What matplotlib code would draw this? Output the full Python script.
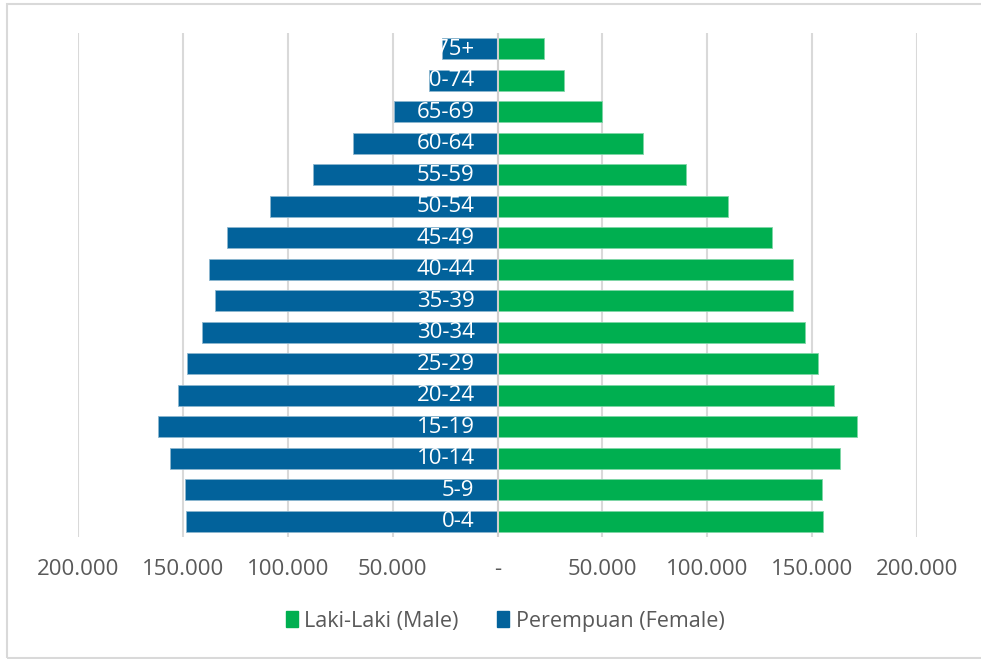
import matplotlib
matplotlib.use("Agg")
import matplotlib.pyplot as plt
from matplotlib.patches import Rectangle, Patch
from matplotlib.ticker import FuncFormatter
import numpy as np

# age groups, bottom to top
age_groups = ["0-4", "5-9", "10-14", "15-19", "20-24", "25-29", "30-34", "35-39",
              "40-44", "45-49", "50-54", "55-59", "60-64", "65-69", "70-74", "75+"]
# population counts
male = [155100, 154700, 163200, 171400, 160400, 152700, 146500, 140800,
        140800, 130800, 109800, 89700, 69200, 49600, 31500, 22400]
female = [148400, 148900, 156100, 161800, 152300, 148000, 140800, 134600,
          137500, 128900, 108400, 87800, 68700, 49200, 32500, 26300]

male_color = "#00AF50"
female_color = "#02629B"
grid_color = "#D9D9D9"
text_color = "#595959"

plt.rcParams['font.family'] = ["Open Sans", "DejaVu Sans"]

fig = plt.figure(figsize=(9.81, 6.59), dpi=100)
ax = fig.add_axes([78 / 981, 1 - 537 / 659, (917 - 78) / 981, (537 - 33) / 659])

y = np.arange(len(age_groups))
ax.barh(y, male, height=0.67, color=male_color, edgecolor="#7FD6A6", linewidth=0.6, zorder=3)
ax.barh(y, [-v for v in female], height=0.67, color=female_color, edgecolor="#8DB6CF",
        linewidth=0.6, zorder=3)

# age labels inside the female bars
for yi, lab in zip(y, age_groups):
    ax.annotate(lab, xy=(0, yi), xytext=(-16.5, -0.5), textcoords="offset points",
                ha="right", va="center", color="white", fontsize=16, zorder=4)

ax.set_xlim(-200000, 200000)
ax.set_ylim(-0.5, len(age_groups) - 0.5)
ticks = np.arange(-200000, 200001, 50000)
ax.set_xticks(ticks)


def fmt(v, pos):
    if v == 0:
        return "-"
    return f"{abs(int(v)):,}".replace(",", ".")


ax.xaxis.set_major_formatter(FuncFormatter(fmt))
ax.tick_params(axis="x", length=0, pad=16, labelsize=16, labelcolor=text_color)
ax.set_yticks([])
for s in ax.spines.values():
    s.set_visible(False)
ax.grid(axis="x", color=grid_color, linewidth=1.5, zorder=0)
ax.axvline(0, color="#CFCFCF", linewidth=1.5, zorder=5)

handles = [Patch(color=male_color, label="Laki-Laki (Male)"),
           Patch(color=female_color, label="Perempuan (Female)")]
fig.legend(handles=handles, loc="center", bbox_to_anchor=(0.515, 1 - 621 / 659), ncol=2,
           frameon=False, fontsize=15.5, labelcolor=text_color, handlelength=0.55,
           handleheight=0.75, handletextpad=0.3, columnspacing=1.8)

# outer chart border
fig.patches.append(Rectangle((7 / 981, 1 - 658 / 659), 1.1, 654 / 659,
                             transform=fig.transFigure, fill=False,
                             edgecolor=grid_color, linewidth=1.5))

fig.savefig("out.png", dpi=100)
